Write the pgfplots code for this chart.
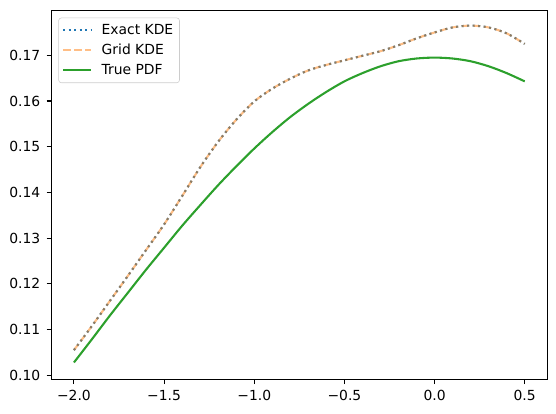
\documentclass[border=0pt]{standalone}
\usepackage{fontspec}
\setmainfont{DejaVu Sans}
\usepackage{pgfplots}
\pgfplotsset{compat=1.18}
\definecolor{tabblue}{HTML}{1F77B4}
\definecolor{taborange}{HTML}{FF7F0E}
\definecolor{tabgreen}{HTML}{2CA02C}
\begin{document}
\begin{tikzpicture}
\begin{axis}[
  scale only axis,
  width=357pt, height=265.4pt,
  xmin=-2.125, xmax=0.625,
  ymin=0.09912, ymax=0.17976,
  axis line style={line width=0.8pt},
  tick align=outside, tick pos=left,
  major tick length=3.5pt,
  every tick/.style={black, line width=0.8pt},
  xtick={-2,-1.5,-1,-0.5,0,0.5},
  xticklabels={−2.0,−1.5,−1.0,−0.5,0.0,0.5},
  ytick={0.10,0.11,0.12,0.13,0.14,0.15,0.16,0.17},
  yticklabels={0.10,0.11,0.12,0.13,0.14,0.15,0.16,0.17},
  tick label style={font=\fontsize{10}{12}\selectfont},
  xticklabel style={yshift=-1pt},
  yticklabel style={xshift=-1pt},
  legend cell align=left,
  legend style={at={(0,1)}, anchor=north west, xshift=5pt, yshift=-5pt,
    draw=black!20, rounded corners=2pt, font=\fontsize{10}{12}\selectfont,
    row sep=1.5pt, inner sep=2.5pt},
  legend image code/.code={\draw[#1] (0pt,0pt) -- (20pt,0pt);},
]
\addplot[tabblue, line width=1.5pt, smooth, dash pattern=on 1.5pt off 2.475pt] coordinates {
(-2.0,0.1055) (-1.9,0.1108) (-1.8,0.1163) (-1.7,0.1218) (-1.6,0.1274)
(-1.5,0.1330) (-1.4,0.1392) (-1.3,0.1455) (-1.2,0.1511) (-1.1,0.1559)
(-1.0,0.1599) (-0.9,0.1627) (-0.8,0.1649) (-0.7,0.1667) (-0.6,0.1679)
(-0.5,0.1689) (-0.4,0.1699) (-0.3,0.1709) (-0.2,0.1722) (-0.1,0.1737)
(0.0,0.1750) (0.1,0.1761) (0.2,0.1765) (0.3,0.1761) (0.4,0.1748) (0.5,0.1725)
};
\addlegendentry{\hspace{5pt}Exact KDE}
\addplot[taborange, opacity=0.5, line width=1.5pt, smooth, dash pattern=on 5.55pt off 2.4pt] coordinates {
(-2.0,0.1055) (-1.9,0.1108) (-1.8,0.1163) (-1.7,0.1218) (-1.6,0.1274)
(-1.5,0.1330) (-1.4,0.1392) (-1.3,0.1455) (-1.2,0.1511) (-1.1,0.1559)
(-1.0,0.1599) (-0.9,0.1627) (-0.8,0.1649) (-0.7,0.1667) (-0.6,0.1679)
(-0.5,0.1689) (-0.4,0.1699) (-0.3,0.1709) (-0.2,0.1722) (-0.1,0.1737)
(0.0,0.1750) (0.1,0.1761) (0.2,0.1765) (0.3,0.1761) (0.4,0.1748) (0.5,0.1725)
};
\addlegendentry{\hspace{5pt}Grid KDE}
\addplot[tabgreen, line width=1.5pt, smooth] coordinates {
(-2.0,0.1028) (-1.9,0.1079) (-1.8,0.1131) (-1.7,0.1181) (-1.6,0.1231)
(-1.5,0.1279) (-1.4,0.1327) (-1.3,0.1372) (-1.2,0.1416) (-1.1,0.1457)
(-1.0,0.1496) (-0.9,0.1532) (-0.8,0.1565) (-0.7,0.1594) (-0.6,0.1620)
(-0.5,0.1643) (-0.4,0.1661) (-0.3,0.1676) (-0.2,0.1687) (-0.1,0.1693)
(0.0,0.1695) (0.1,0.1693) (0.2,0.1687) (0.3,0.1676) (0.4,0.1661) (0.5,0.1643)
};
\addlegendentry{\hspace{5pt}True PDF}
\end{axis}
\path (current axis.south west) ++(-37pt,-24.3pt) coordinate (bbsw);
\path (current axis.north east) ++(6.3pt,7.7pt) coordinate (bbne);
\useasboundingbox (bbsw) rectangle (bbne);
\end{tikzpicture}
\end{document}
